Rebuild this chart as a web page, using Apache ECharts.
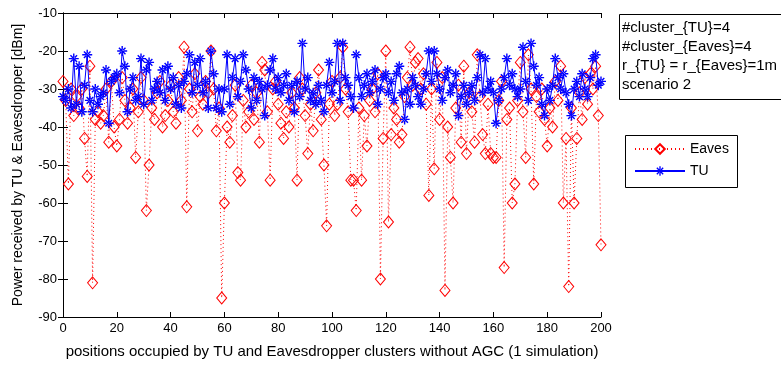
<!DOCTYPE html>
<html>
<head>
<meta charset="utf-8">
<script src="https://cdn.jsdelivr.net/npm/echarts@6/dist/echarts.min.js"></script>
<style>html,body{margin:0;padding:0;background:#fff;}#c{width:781px;height:367px;}</style>
</head>
<body>
<div id="c"></div>
<script>
var xTicks = [0, 20, 40, 60, 80, 100, 120, 140, 160, 180, 200];
var yTicks = [-90, -80, -70, -60, -50, -40, -30, -20, -10];

var eaves = [
-28,-33,-55,-30,-37,-32,-35,-30,-43,-53,
-24,-81,-38,-36,-39,-37,-30,-44,-28,-40,
-45,-38,-27,-33,-39,-35,-30,-48,-36,-27,
-33,-62,-50,-35,-38,-31,-28,-40,-37,-33,
-29,-36,-39,-27,-33,-19,-61,-30,-36,-26,
-41,-32,-34,-28,-31,-20,-30,-41,-35,-85,
-60,-40,-44,-37,-29,-52,-54,-33,-40,-36,
-29,-38,-31,-44,-23,-25,-36,-54,-30,-28,
-34,-39,-43,-36,-40,-31,-35,-54,-27,-30,
-37,-47,-34,-41,-31,-25,-38,-50,-66,-34,
-28,-37,-34,-27,-19,-30,-36,-54,-54,-62,
-35,-54,-37,-45,-33,-30,-36,-26,-80,-43,
-20,-65,-42,-35,-38,-44,-42,-32,-27,-19,
-29,-23,-22,-30,-26,-34,-58,-30,-51,-23,
-38,-27,-83,-40,-48,-60,-35,-29,-44,-24,
-47,-31,-36,-44,-21,-32,-42,-47,-34,-47,
-48,-48,-33,-28,-77,-38,-35,-60,-55,-33,
-23,-36,-48,-21,-30,-55,-32,-36,-30,-38,
-45,-35,-40,-28,-33,-24,-60,-43,-82,-35,
-60,-43,-31,-38,-27,-34,-26,-30,-24,-37,
-71
];

var tu = [
-32,-33,-30,-35,-22,-34,-24,-36,-29,-21,
-33,-36,-30,-34,-32,-31,-25,-39,-28,-27,
-26,-31,-20,-24,-36,-30,-27,-33,-32,-22,
-34,-25,-23,-33,-30,-28,-31,-25,-33,-24,
-30,-27,-34,-29,-35,-28,-26,-21,-31,-23,
-29,-22,-31,-28,-35,-20,-26,-35,-30,-36,
-30,-21,-34,-27,-22,-32,-28,-21,-25,-30,
-35,-27,-33,-28,-30,-37,-29,-25,-22,-30,
-27,-31,-29,-26,-33,-29,-36,-28,-32,-18,
-30,-27,-33,-31,-34,-29,-33,-36,-29,-23,
-31,-28,-18,-33,-18,-27,-29,-32,-35,-21,
-27,-32,-29,-26,-31,-28,-25,-34,-30,-27,
-26,-31,-28,-33,-26,-24,-31,-38,-30,-34,
-27,-29,-32,-34,-30,-26,-20,-28,-20,-26,
-30,-33,-27,-25,-31,-29,-26,-37,-32,-29,
-34,-31,-29,-33,-27,-21,-31,-22,-30,-28,
-31,-39,-33,-30,-27,-22,-29,-26,-30,-32,
-30,-19,-28,-33,-18,-24,-29,-27,-34,-37,
-30,-33,-29,-22,-27,-30,-26,-31,-34,-37,
-30,-28,-32,-26,-30,-32,-27,-22,-21,-29,
-28
];

var annotLines = ['#cluster_{TU}=4', '#cluster_{Eaves}=4', 'r_{TU} = r_{Eaves}=1m', 'scenario 2'];

function pairs(arr) { return arr.map(function (v, i) { return [i, v]; }); }

var starPath = 'path://M4.3,0h1.4v10h-1.4z M0,4.3h10v1.4h-10z M1.2,2.2l1-1 6.6,6.6 -1,1z M8.8,2.2l-1-1 -6.6,6.6 1,1z';
var FONT = '"Liberation Sans", Arial, sans-serif';

var chart = echarts.init(document.getElementById('c'), null, {renderer: 'canvas'});
var axisCommon = {
  axisLine: {show: true, lineStyle: {color: '#000', width: 1}},
  axisTick: {show: true, inside: true, length: 5, lineStyle: {color: '#000'}},
  splitLine: {show: false}
};
chart.setOption({
  animation: false,
  backgroundColor: '#fff',
  grid: {left: 63, right: 180, top: 13, bottom: 50, containLabel: false},
  xAxis: [
    Object.assign({
      type: 'value', min: xTicks[0], max: xTicks[xTicks.length - 1], interval: 20,
      position: 'bottom',
      name: 'positions occupied by TU and Eavesdropper clusters without AGC (1 simulation)',
      nameLocation: 'middle', nameGap: 27,
      nameTextStyle: {color: '#000', fontSize: 15, fontFamily: FONT},
      axisLabel: {color: '#000', fontSize: 13, fontFamily: FONT, margin: 5}
    }, axisCommon),
    Object.assign({
      type: 'value', min: xTicks[0], max: xTicks[xTicks.length - 1], interval: 20,
      position: 'top', axisLabel: {show: false}
    }, axisCommon)
  ],
  yAxis: [
    Object.assign({
      type: 'value', min: yTicks[0], max: yTicks[yTicks.length - 1], interval: 10,
      position: 'left',
      name: 'Power received by TU & Eavesdropper [dBm]',
      nameLocation: 'middle', nameGap: 38,
      nameTextStyle: {color: '#000', fontSize: 14, fontFamily: FONT},
      axisLabel: {color: '#000', fontSize: 13, fontFamily: FONT, margin: 6}
    }, axisCommon),
    Object.assign({
      type: 'value', min: yTicks[0], max: yTicks[yTicks.length - 1], interval: 10,
      position: 'right', axisLabel: {show: false}
    }, axisCommon)
  ],
  legend: {
    left: 629, top: 137, orient: 'vertical',
    itemWidth: 50, itemHeight: 12, itemGap: 8,
    textStyle: {color: '#000', fontSize: 14, fontFamily: FONT},
    data: ['Eaves', 'TU']
  },
  graphic: [
    {type: 'rect', left: 619, top: 14, shape: {width: 170, height: 85},
     style: {fill: '#fff', stroke: '#000', lineWidth: 1}},
    {type: 'text', left: 622, top: 18,
     style: {text: annotLines.join('\n'), fill: '#000', font: '15px ' + FONT, lineHeight: 19}},
    {type: 'rect', left: 623, top: 133, shape: {width: 112, height: 52},
     style: {fill: 'none', stroke: '#000', lineWidth: 1}, z: 100}
  ],
  series: [
    {
      name: 'Eaves', type: 'line', data: pairs(eaves),
      symbol: 'diamond', symbolSize: [10, 12],
      itemStyle: {color: 'rgba(255,255,255,0)', borderColor: '#ff0000', borderWidth: 1},
      lineStyle: {color: '#ff0000', width: 1, type: [1, 3]},
      emphasis: {disabled: true}, z: 2
    },
    {
      name: 'TU', type: 'line', data: pairs(tu),
      symbol: starPath, symbolSize: 10,
      itemStyle: {color: '#0000ff'},
      lineStyle: {color: '#0000ff', width: 1},
      emphasis: {disabled: true}, z: 3
    }
  ]
});
</script>
</body>
</html>
